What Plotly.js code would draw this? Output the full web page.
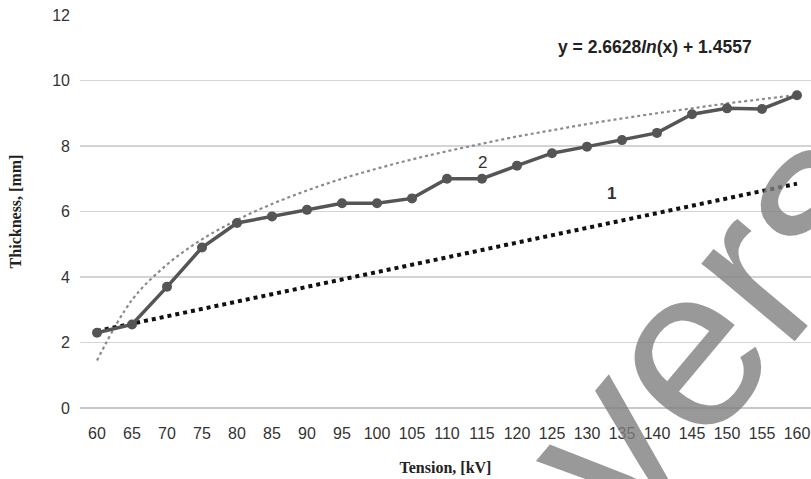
<!DOCTYPE html>
<html><head><meta charset="utf-8">
<script src="https://cdn.plot.ly/plotly-3.0.1.min.js"></script>
<style>html,body{margin:0;padding:0;background:#fff}</style>
</head><body><div id="chart" style="width:811px;height:479px"></div>
<script>
const tension = [60,65,70,75,80,85,90,95,100,105,110,115,120,125,130,135,140,145,150,155,160];
const thickness2 = [2.3,2.55,3.7,4.9,5.65,5.85,6.05,6.25,6.25,6.4,7.0,7.0,7.4,7.78,7.98,8.18,8.4,8.97,9.15,9.13,9.55];
const trendLog = [1.45,3.3,4.38,5.15,5.74,6.23,6.64,7.0,7.31,7.59,7.84,8.07,8.29,8.48,8.67,8.84,9.0,9.15,9.3,9.43,9.56];
const line1X = [60,160];
const line1Y = [2.35,6.85];
const yTicks = [0,2,4,6,8,10,12];

const traces = [
  {x: tension, y: trendLog, mode:'lines', line:{color:'#8a8a8a', width:2.2, dash:'dot', shape:'spline'}, hoverinfo:'skip'},
  {x: line1X, y: line1Y, mode:'lines', line:{color:'#111', width:4, dash:'dot'}},
  {x: tension, y: thickness2, mode:'lines+markers', line:{color:'#555555', width:3.5}, marker:{color:'#555555', size:10}}
];

const layout = {
  width:811, height:479, showlegend:false,
  margin:{l:80, r:0, t:15, b:71},
  paper_bgcolor:'#fff', plot_bgcolor:'#fff',
  font:{family:'Liberation Sans, Arial, sans-serif', size:16, color:'#333'},
  xaxis:{range:[57.57,162], tickvals:tension, ticktext:tension.map(String), showgrid:false, zeroline:false,
         showline:false, ticks:'', ticklabelstandoff:14, tickfont:{size:16, color:'#333'},
         title:{text:'<b>Tension, [kV]</b>', font:{family:'Liberation Serif, Times New Roman, serif', size:16, color:'#222'}, standoff:20}},
  yaxis:{range:[0,12], tickvals:yTicks, showgrid:true, gridcolor:'#d4d4d4', gridwidth:1.5, zeroline:true, zerolinecolor:'#c8c8c8', zerolinewidth:2,
         ticks:'', ticklabelstandoff:9, tickfont:{size:16, color:'#333'},
         title:{text:'<b>Thickness, [mm]</b>', font:{family:'Liberation Serif, Times New Roman, serif', size:16, color:'#222'}, standoff:26}},
  annotations:[
    {xref:'paper', yref:'paper', x:0.787, y:0.918, xanchor:'center', yanchor:'middle', text:'<b>y = 2.6628<i>ln</i>(x) + 1.4557</b>', showarrow:false, font:{size:17.5, color:'#222'}},
    {x:115, y:7.5, text:'2', showarrow:false, font:{size:17, color:'#333'}},
    {x:133.5, y:6.55, text:'<b>1</b>', showarrow:false, font:{size:17, color:'#333'}},
    {xref:'paper', yref:'paper', x:0.859, y:0.219, xanchor:'center', yanchor:'middle', text:'vers', showarrow:false, textangle:-50,
     font:{family:'Liberation Sans, Arial, sans-serif', size:230, color:'rgba(128,128,128,0.8)'}}
  ]
};
Plotly.newPlot('chart', traces, layout, {displayModeBar:false, staticPlot:true});
</script></body></html>
